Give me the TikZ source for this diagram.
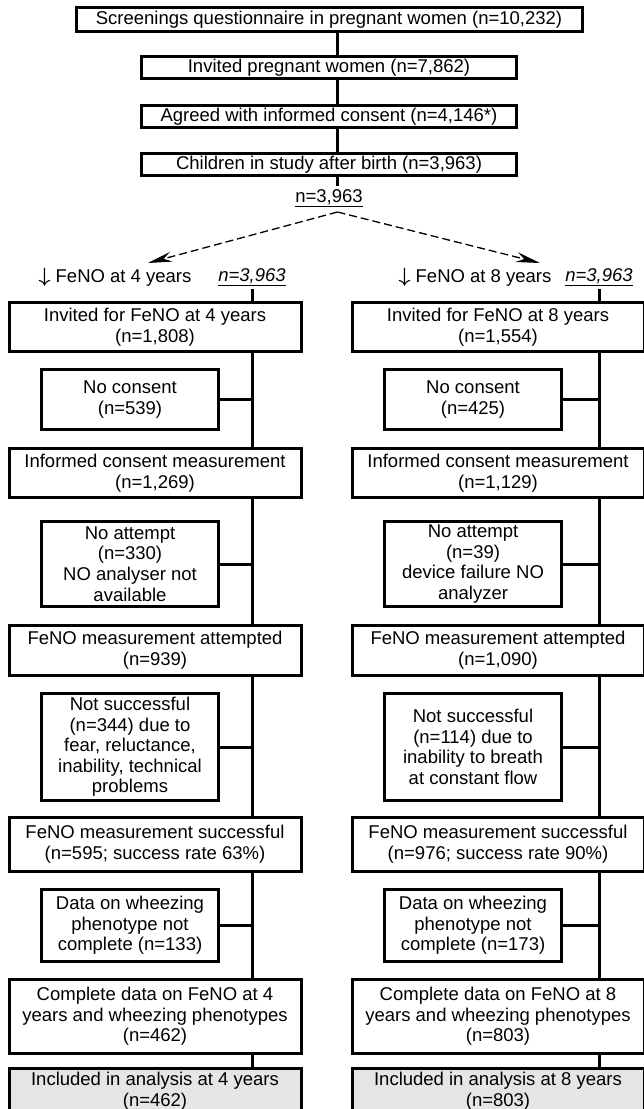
\documentclass[tikz,border=0pt]{standalone}
\usepackage{fontspec}
\setmainfont{Liberation Sans}
\usetikzlibrary{positioning, arrows.meta}
\tikzstyle{topbox} = [rectangle, minimum width=375pt, minimum height=22pt, inner sep=2pt, text centered, draw=black, line width=3pt]
\tikzstyle{mainbox} = [rectangle, minimum width=292pt, minimum height=49pt, inner sep=3pt, align=center, draw=black, line width=3pt]
\tikzstyle{sidebox} = [rectangle, minimum width=177pt, minimum height=60pt, inner sep=3pt, align=center, draw=black, line width=3pt]
\tikzstyle{finalbox} = [mainbox, fill=gray!20, minimum height=45pt]
\tikzstyle{spine} = [line width=3pt]
\tikzstyle{dasharrow} = [line width=1.3pt, dash pattern=on 8pt off 4pt, -{Stealth[length=24pt,width=10pt]}]
\newcommand{\dnarrow}{{\boldmath\fontsize{20}{20}\selectfont$\downarrow$}}

\begin{document}
\begin{tikzpicture}[x=1pt, y=-1pt, font=\fontsize{18.5}{20.6}\selectfont]
\useasboundingbox (0,0) rectangle (644,1109);
\clip (0,0) rectangle (644,1109);
% cohort
\node (top1) [topbox, minimum width=506pt, minimum height=24pt] at (329,19.5) {Screenings questionnaire in pregnant women (n=10,232)};
\node (top2) [topbox, below=22pt of top1] {Invited pregnant women (n=7,862)};
\node (top3) [topbox, below=24pt of top2] {Agreed with informed consent (n=4,146*)};
\node (top4) [topbox, below=23pt of top3] {Children in study after birth (n=3,963)};
\node (nall) at (329,198) {\underline{n=3,963}};
\coordinate (split) at (337.5,212);
\coordinate (tipL) at (148,263);
\coordinate (tipR) at (540,263);
\draw [spine] ([xshift=8.5pt]top1.south) -- ([xshift=8.5pt]top2.north);
\draw [spine] ([xshift=8.5pt]top2.south) -- ([xshift=8.5pt]top3.north);
\draw [spine] ([xshift=8.5pt]top3.south) -- ([xshift=8.5pt]top4.north);
\draw [spine] ([xshift=8.5pt]top4.south) -- ([xshift=8.5pt]nall.north);
\draw [dasharrow] (split) -- (tipL);
\draw [dasharrow] (split) -- (tipR);

% FeNO at 4 years
\node (hdrL) at (115,277) {\dnarrow\ FeNO at 4 years};
\node (nL) at (252,277) {\textit{\underline{n=3,963}}};
\node (a1) [mainbox] at (155,327) {Invited for FeNO at 4 years\\(n=1,808)};
\node (s1) [sidebox, below=15pt of a1, xshift=-25pt] {No consent\\(n=539)};
\node (a2) [mainbox, below=16pt of s1, xshift=25pt] {Informed consent measurement\\(n=1,269)};
\node (s2) [sidebox, below=21pt of a2, xshift=-25pt, minimum height=85pt] {No attempt\\(n=330)\\NO analyser not\\available};
\node (a3) [mainbox, below=16pt of s2, xshift=25pt, minimum height=50pt] {FeNO measurement attempted\\(n=939)};
\node (s3) [sidebox, below=15pt of a3, xshift=-25pt, minimum height=107pt] {Not successful\\(n=344) due to\\fear, reluctance,\\inability, technical\\problems};
\node (a4) [mainbox, below=14pt of s3, xshift=25pt, minimum height=54pt] {FeNO measurement successful\\(n=595; success rate 63\%)};
\node (s4) [sidebox, below=15pt of a4, xshift=-25pt, minimum height=72pt] {Data on wheezing\\phenotype not\\complete (n=133)};
\node (a5) [mainbox, below=15pt of s4, xshift=25pt, minimum height=74pt] {Complete data on FeNO at 4\\years and wheezing phenotypes\\(n=462)};
\node (a6) [finalbox, below=12pt of a5] {Included in analysis at 4 years\\(n=462)};
\draw [spine] (nL.south) -- (nL.south |- a1.north);
\draw [spine] (a1.south -| nL.south) -- (a2.north -| nL.south);
\draw [spine] (a2.south -| nL.south) -- (a3.north -| nL.south);
\draw [spine] (a3.south -| nL.south) -- (a4.north -| nL.south);
\draw [spine] (a4.south -| nL.south) -- (a5.north -| nL.south);
\draw [spine] (a5.south -| nL.south) -- (a6.north -| nL.south);
\draw [spine] (s1.east) -- (s1.east -| nL.south);
\draw [spine] (s2.east) -- (s2.east -| nL.south);
\draw [spine] (s3.east) -- (s3.east -| nL.south);
\draw [spine] (s4.east) -- (s4.east -| nL.south);

% FeNO at 8 years
\node (hdrR) at (475,277) {\dnarrow\ FeNO at 8 years};
\node (nR) at (599,277) {\textit{\underline{n=3,963}}};
\node (b1) [mainbox] at (498,327) {Invited for FeNO at 8 years\\(n=1,554)};
\node (t1) [sidebox, below=15pt of b1, xshift=-25pt] {No consent\\(n=425)};
\node (b2) [mainbox, below=16pt of t1, xshift=25pt] {Informed consent measurement\\(n=1,129)};
\node (t2) [sidebox, below=21pt of b2, xshift=-25pt, minimum height=85pt] {No attempt\\(n=39)\\device failure NO\\analyzer};
\node (b3) [mainbox, below=16pt of t2, xshift=25pt, minimum height=50pt] {FeNO measurement attempted\\(n=1,090)};
\node (t3) [sidebox, below=15pt of b3, xshift=-25pt, minimum height=107pt] {Not successful\\(n=114) due to\\inability to breath\\at constant flow};
\node (b4) [mainbox, below=14pt of t3, xshift=25pt, minimum height=54pt] {FeNO measurement successful\\(n=976; success rate 90\%)};
\node (t4) [sidebox, below=15pt of b4, xshift=-25pt, minimum height=72pt] {Data on wheezing\\phenotype not\\complete (n=173)};
\node (b5) [mainbox, below=15pt of t4, xshift=25pt, minimum height=74pt] {Complete data on FeNO at 8\\years and wheezing phenotypes\\(n=803)};
\node (b6) [finalbox, below=12pt of b5] {Included in analysis at 8 years\\(n=803)};
\draw [spine] (nR.south) -- (nR.south |- b1.north);
\draw [spine] (b1.south -| nR.south) -- (b2.north -| nR.south);
\draw [spine] (b2.south -| nR.south) -- (b3.north -| nR.south);
\draw [spine] (b3.south -| nR.south) -- (b4.north -| nR.south);
\draw [spine] (b4.south -| nR.south) -- (b5.north -| nR.south);
\draw [spine] (b5.south -| nR.south) -- (b6.north -| nR.south);
\draw [spine] (t1.east) -- (t1.east -| nR.south);
\draw [spine] (t2.east) -- (t2.east -| nR.south);
\draw [spine] (t3.east) -- (t3.east -| nR.south);
\draw [spine] (t4.east) -- (t4.east -| nR.south);
\end{tikzpicture}
\end{document}
